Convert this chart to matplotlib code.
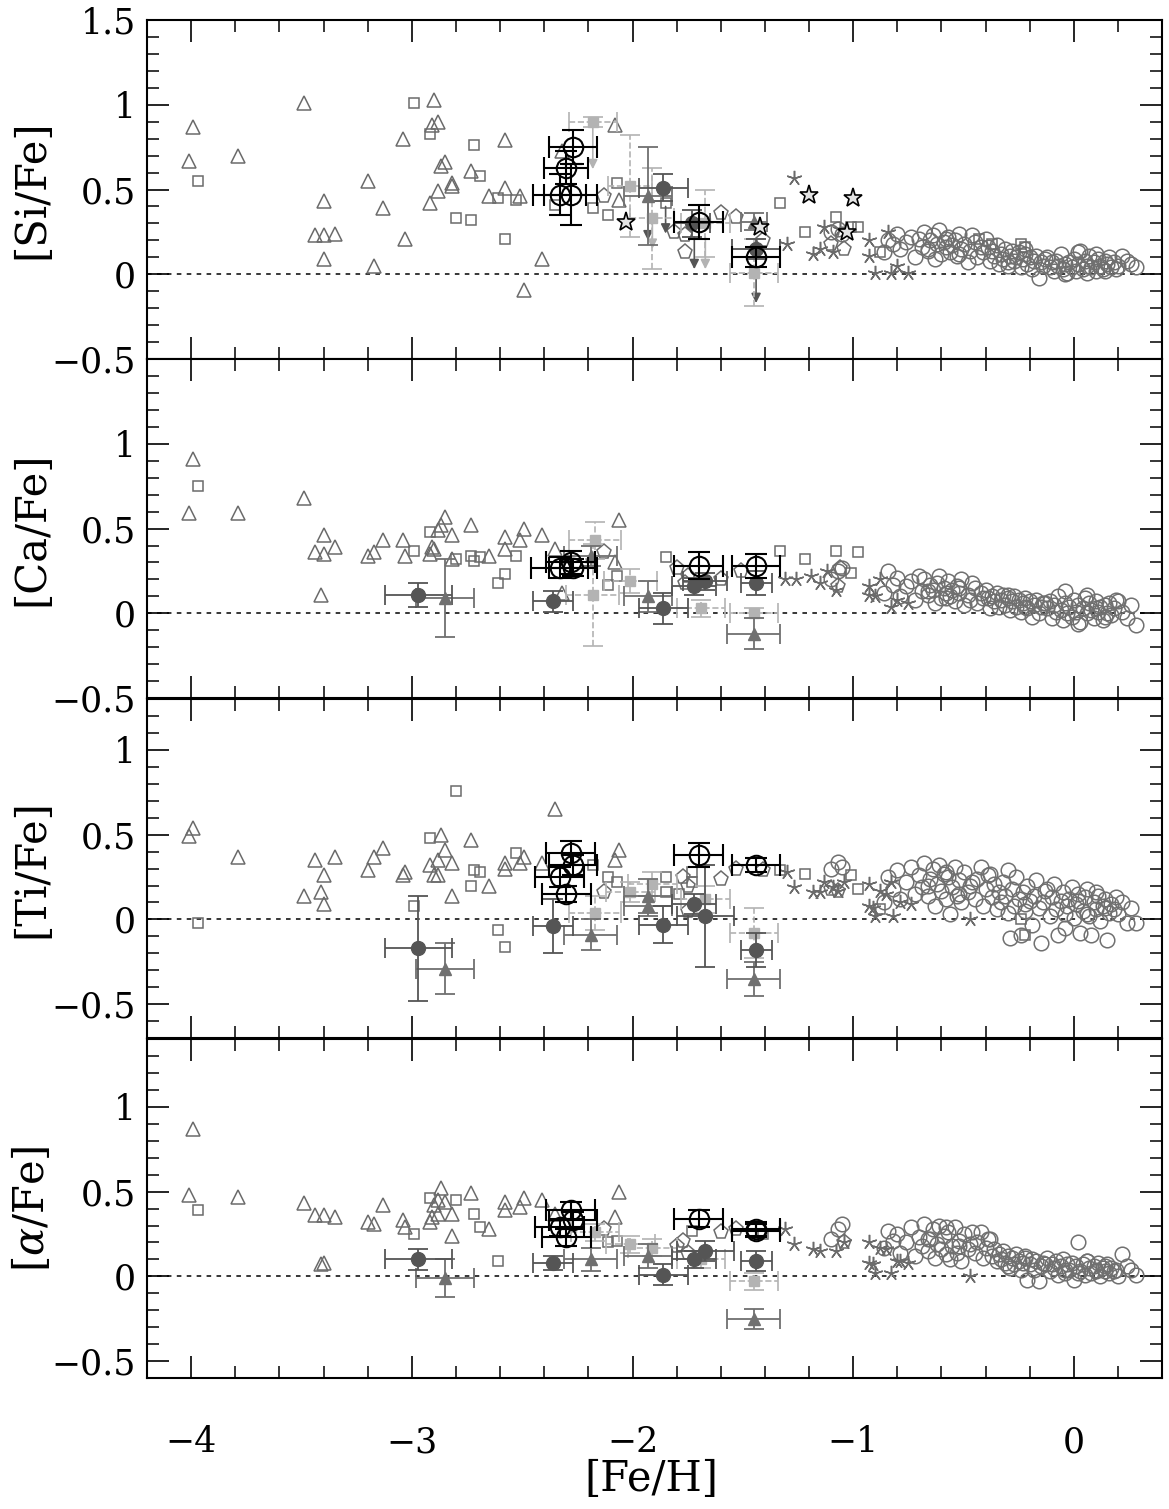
"""[X/Fe] vs [Fe/H] for Si, Ca, Ti and alpha - four stacked panels."""

import numpy as np
import matplotlib.pyplot as plt

plt.rcParams['font.family'] = 'DejaVu Serif'
plt.rcParams['mathtext.fontset'] = 'dejavuserif'

# ---------------------------------------------------------------- disk stars (shared [Fe/H])
disk_feh = [-0.86, -0.84, -0.82, -0.80, -0.79, -0.76, -0.74, -0.72, -0.70, -0.69,
            -0.68, -0.66, -0.65, -0.64, -0.63, -0.62, -0.61, -0.60, -0.59, -0.58,
            -0.57, -0.56, -0.55, -0.54, -0.53, -0.52, -0.51, -0.50, -0.48, -0.47,
            -0.45, -0.44, -0.42, -0.41, -0.40, -0.38, -0.37, -0.36, -0.35, -0.34,
            -0.33, -0.32, -0.31, -0.30, -0.29, -0.28, -0.27, -0.26, -0.25, -0.24,
            -0.23, -0.22, -0.21, -0.20, -0.19, -0.18, -0.17, -0.16, -0.15, -0.14,
            -0.12, -0.11, -0.10, -0.09, -0.08, -0.07, -0.06, -0.05, -0.04, -0.03,
            -0.02, -0.01, 0.00, 0.01, 0.02, 0.03, 0.04, 0.05, 0.06, 0.07,
            0.08, 0.09, 0.10, 0.11, 0.12, 0.13, 0.14, 0.15, 0.16, 0.17,
            0.18, 0.20, 0.22, 0.24, 0.26, 0.28, -0.66, -0.58, -0.52, -0.30,
            -0.22, -0.13, -0.04, 0.02, 0.06, 0.10, 0.14, -0.46, -0.39, 0.19,
            -1.10, -1.07, -1.05]
disk_si = [0.13, 0.20, 0.18, 0.24, 0.15, 0.19, 0.22, 0.10, 0.21, 0.16,
           0.25, 0.14, 0.20, 0.23, 0.09, 0.18, 0.26, 0.12, 0.19, 0.16,
           0.22, 0.13, 0.17, 0.20, 0.11, 0.24, 0.15, 0.18, 0.07, 0.14,
           0.19, 0.10, 0.16, 0.13, 0.21, 0.08, 0.14, 0.11, 0.17, 0.06,
           0.12, 0.09, 0.15, 0.05, 0.11, 0.14, 0.08, 0.10, 0.13, 0.04,
           0.09, 0.12, 0.06, 0.10, 0.03, 0.08, 0.11, -0.02, 0.07, 0.05,
           0.10, 0.04, 0.07, 0.02, 0.08, 0.05, 0.12, 0.03, 0.06, 0.01,
           0.07, 0.04, 0.09, 0.02, 0.06, 0.14, 0.03, 0.08, 0.05, 0.11,
           0.04, 0.07, 0.02, 0.09, 0.05, 0.03, 0.08, 0.06, 0.10, 0.04,
           0.07, 0.05, 0.11, 0.08, 0.06, 0.04, 0.15, 0.21, 0.12, 0.07,
           0.15, 0.09, 0.00, 0.13, 0.01, 0.12, 0.02, 0.23, 0.16, 0.03,
           0.25, 0.27, 0.24]
disk_ca = [0.12, 0.25, 0.17, 0.21, 0.10, 0.16, 0.19, 0.08, 0.22, 0.13,
           0.20, 0.11, 0.17, 0.14, 0.06, 0.18, 0.22, 0.09, 0.15, 0.12,
           0.19, 0.10, 0.14, 0.07, 0.16, 0.12, 0.20, 0.05, 0.11, 0.08,
           0.15, 0.06, 0.12, 0.09, 0.14, 0.03, 0.10, 0.07, 0.12, 0.04,
           0.08, 0.11, 0.05, 0.09, 0.02, 0.07, 0.10, 0.04, 0.08, 0.01,
           0.06, 0.09, 0.03, 0.07, -0.02, 0.05, 0.08, 0.00, 0.04, 0.06,
           0.03, 0.07, -0.03, 0.05, 0.01, 0.10, 0.02, -0.04, 0.06, 0.00,
           0.04, -0.02, 0.08, 0.01, 0.05, -0.05, 0.03, 0.09, 0.00, 0.06,
           0.02, -0.03, 0.07, 0.01, 0.04, -0.04, 0.05, 0.00, 0.06, -0.01,
           0.03, 0.07, 0.01, -0.03, 0.05, -0.07, 0.13, 0.09, 0.15, 0.11,
           0.04, 0.06, 0.13, -0.06, 0.11, 0.03, -0.02, 0.18, 0.09, 0.08,
           0.20, 0.25, 0.27]
disk_ti = [0.10, 0.25, 0.18, 0.29, 0.12, 0.22, 0.31, 0.15, 0.26, 0.19,
           0.33, 0.14, 0.24, 0.30, 0.08, 0.21, 0.32, 0.17, 0.27, 0.12,
           0.25, 0.03, 0.19, 0.31, 0.14, 0.23, 0.10, 0.28, 0.16, 0.20,
           0.12, 0.24, 0.31, 0.08, 0.18, 0.27, 0.13, 0.21, 0.06, 0.16,
           0.10, 0.22, 0.14, 0.29, -0.11, 0.18, 0.08, 0.25, 0.12, -0.09,
           0.16, 0.05, 0.20, 0.11, -0.03, 0.14, 0.23, 0.07, -0.14, 0.10,
           0.18, 0.02, 0.13, 0.21, 0.06, -0.09, 0.11, 0.16, 0.03, 0.08,
           0.12, 0.19, 0.01, 0.09, 0.15, -0.08, 0.05, 0.13, 0.18, 0.02,
           -0.09, 0.10, 0.06, 0.14, -0.01, 0.08, 0.12, -0.12, 0.04, 0.09,
           0.06, 0.03, 0.10, -0.02, 0.07, -0.02, 0.20, 0.28, 0.15, 0.04,
           0.09, 0.17, -0.05, 0.11, 0.03, 0.16, 0.07, 0.22, 0.26, 0.13,
           0.30, 0.34, 0.31]
disk_alpha = [0.17, 0.27, 0.21, 0.25, 0.14, 0.20, 0.29, 0.12, 0.23, 0.18,
              0.31, 0.15, 0.22, 0.28, 0.11, 0.19, 0.30, 0.16, 0.24, 0.13,
              0.26, 0.10, 0.18, 0.29, 0.14, 0.21, 0.09, 0.25, 0.16, 0.19,
              0.14, 0.20, 0.26, 0.11, 0.17, 0.22, 0.12, 0.16, 0.09, 0.13,
              0.10, 0.15, 0.08, 0.12, 0.05, 0.11, 0.07, 0.13, 0.09, 0.04,
              0.08, 0.12, -0.02, 0.07, 0.10, 0.04, 0.09, -0.03, 0.06, 0.08,
              0.11, 0.03, 0.07, 0.05, 0.09, 0.01, 0.06, 0.10, 0.02, 0.07,
              0.04, 0.08, -0.02, 0.06, 0.20, 0.03, 0.07, 0.01, 0.09, 0.05,
              0.02, 0.06, 0.04, 0.08, 0.00, 0.05, 0.03, 0.07, 0.02, 0.05,
              0.03, 0.00, 0.13, 0.06, 0.04, 0.01, 0.22, 0.29, 0.18, 0.06,
              0.11, 0.07, 0.04, 0.02, 0.09, 0.03, 0.06, 0.26, 0.22, 0.04,
              0.22, 0.28, 0.31]

# ---------------------------------------------------------------- [Si/Fe]
si_tri_x = [-4.01, -3.99, -3.79, -3.49, -3.40, -3.44, -3.40, -3.35, -3.40, -3.20, -3.17,
            -3.13, -3.04, -3.03, -2.90, -2.91, -2.88, -2.87, -2.85, -2.82, -2.82, -2.88,
            -2.92, -2.73, -2.65, -2.58, -2.58, -2.51, -2.49, -2.41, -2.32, -2.08, -2.06]
si_tri_y = [0.67, 0.87, 0.70, 1.01, 0.43, 0.23, 0.23, 0.24, 0.09, 0.55, 0.05,
            0.39, 0.80, 0.21, 1.03, 0.88, 0.90, 0.64, 0.66, 0.54, 0.52, 0.49,
            0.42, 0.61, 0.46, 0.79, 0.51, 0.46, -0.09, 0.09, 0.73, 0.88, 0.44]
si_sq_x = [-3.97, -2.99, -2.92, -2.72, -2.69, -2.80, -2.73, -2.61, -2.53, -2.58, -2.35, -2.18,
           -2.11, -2.07, -1.85, -1.33, -1.22, -1.08, -1.01, -0.98, -0.88, -0.43, -0.37, -0.24, -0.22]
si_sq_y = [0.55, 1.01, 0.83, 0.76, 0.58, 0.33, 0.32, 0.45, 0.44, 0.21, 0.41, 0.39,
           0.35, 0.54, 0.42, 0.42, 0.25, 0.34, 0.28, 0.28, 0.13, 0.21, 0.18, 0.18, 0.16]
si_pent_x = [-2.13, -1.81, -1.76, -1.76, -1.60, -1.53, -1.41, -1.10, -1.04]
si_pent_y = [0.46, 0.25, 0.23, 0.13, 0.36, 0.34, 0.20, 0.18, 0.15]
si_ast_x = [-1.27, -1.30, -1.18, -1.15, -1.09, -1.13, -1.06, -0.93, -0.93, -0.90, -0.83, -0.80, -0.75, -0.84]
si_ast_y = [0.57, 0.18, 0.12, 0.15, 0.13, 0.28, 0.27, 0.20, 0.11, 0.01, 0.01, 0.05, 0.01, 0.25]
si_star_x = [-2.03, -1.42, -1.20, -1.00, -1.03]
si_star_y = [0.31, 0.28, 0.47, 0.45, 0.25]
si_oc_x = [-2.27, -2.30, -2.33, -2.28, -1.70, -1.44]
si_oc_y = [0.75, 0.63, 0.47, 0.47, 0.31, 0.10]
si_oc_xe = [0.11, 0.10, 0.12, 0.12, 0.11, 0.11]
si_oc_ye = [0.10, 0.10, 0.12, 0.18, 0.10, 0.06]
si_fc_x = [-1.86, -1.73, -1.44]
si_fc_y = [0.51, 0.30, 0.15]
si_fc_xe = [0.11, 0.08, 0.11]
si_fc_ye = [0.08, 0.08, 0.06]
si_ft_x = [-1.93, -1.45]
si_ft_y = [0.46, 0.31]
si_ft_xe = [0.11, 0.06]
si_ft_ye = [0.29, 0.05]
si_ls_x = [-2.18, -2.01, -1.91, -1.67, -1.45]
si_ls_y = [0.90, 0.52, 0.33, 0.30, 0.01]
si_ls_xe = [0.11, 0.10, 0.10, 0.11, 0.11]
si_ls_ye = [0.03, 0.30, 0.30, 0.20, 0.20]
# upper limits: start / end of the downward arrows
si_lim_x = [-2.18, -1.93, -1.91, -1.85, -1.72, -1.67, -1.44]
si_lim_top = [0.90, 0.44, 0.33, 0.40, 0.22, 0.22, 0.02]
si_lim_bot = [0.62, 0.20, 0.15, 0.24, 0.03, 0.03, -0.17]
si_lim_dark = [False, True, False, True, True, False, True]

# ---------------------------------------------------------------- [Ca/Fe]
ca_tri_x = [-4.01, -3.99, -3.79, -3.49, -3.40, -3.44, -3.40, -3.35, -3.41, -3.20, -3.17,
            -3.13, -3.04, -3.03, -2.92, -2.91, -2.90, -2.88, -2.87, -2.85, -2.82, -2.82,
            -2.73, -2.65, -2.58, -2.58, -2.51, -2.49, -2.41, -2.35, -2.32, -2.08, -2.06]
ca_tri_y = [0.59, 0.91, 0.59, 0.68, 0.46, 0.36, 0.35, 0.39, 0.11, 0.34, 0.36,
            0.43, 0.43, 0.34, 0.35, 0.39, 0.38, 0.49, 0.52, 0.57, 0.46, 0.32,
            0.52, 0.34, 0.45, 0.38, 0.43, 0.50, 0.46, 0.38, 0.12, 0.30, 0.55]
ca_sq_x = [-3.97, -2.92, -2.99, -2.80, -2.73, -2.72, -2.69, -2.53, -2.58, -2.61, -2.11, -2.07,
           -1.85, -1.33, -1.22, -1.08, -0.98, -1.01]
ca_sq_y = [0.75, 0.48, 0.37, 0.32, 0.34, 0.31, 0.33, 0.34, 0.23, 0.18, 0.17, 0.22,
           0.33, 0.37, 0.32, 0.37, 0.36, 0.24]
ca_pent_x = [-2.13, -1.80, -1.75, -1.76, -1.60, -1.51, -1.06, -1.07]
ca_pent_y = [0.36, 0.27, 0.22, 0.18, 0.20, 0.25, 0.27, 0.16]
ca_ast_x = [-1.31, -1.26, -1.19, -1.15, -1.12, -1.08, -0.93, -0.93, -0.90, -0.83, -0.80, -0.88, -0.75]
ca_ast_y = [0.20, 0.20, 0.22, 0.18, 0.25, 0.14, 0.16, 0.11, 0.10, 0.04, 0.08, 0.20, 0.06]
ca_oc_x = [-2.33, -2.28, -2.27, -1.70, -1.44]
ca_oc_y = [0.27, 0.30, 0.27, 0.28, 0.28]
ca_oc_xe = [0.13, 0.11, 0.11, 0.11, 0.11]
ca_oc_ye = [0.06, 0.07, 0.05, 0.08, 0.07]
ca_fc_x = [-2.97, -2.36, -1.86, -1.72, -1.67, -1.44]
ca_fc_y = [0.11, 0.07, 0.03, 0.16, 0.19, 0.18]
ca_fc_xe = [0.15, 0.09, 0.11, 0.10, 0.10, 0.07]
ca_fc_ye = [0.07, 0.06, 0.09, 0.05, 0.05, 0.07]
ca_ft_x = [-2.85, -2.19, -1.93, -1.45]
ca_ft_y = [0.09, 0.34, 0.10, -0.12]
ca_ft_xe = [0.13, 0.12, 0.11, 0.12]
ca_ft_ye = [0.23, 0.06, 0.09, 0.09]
ca_ls_x = [-2.17, -2.18, -2.01, -1.69, -1.45]
ca_ls_y = [0.43, 0.11, 0.19, 0.03, 0.00]
ca_ls_xe = [0.12, 0.12, 0.12, 0.11, 0.11]
ca_ls_ye = [0.11, 0.30, 0.07, 0.05, 0.03]

# ---------------------------------------------------------------- [Ti/Fe]
ti_tri_x = [-4.01, -3.99, -3.79, -3.49, -3.44, -3.41, -3.40, -3.40, -3.35, -3.20, -3.17,
            -3.13, -3.04, -3.03, -2.92, -2.90, -2.88, -2.88, -2.87, -2.85, -2.82, -2.82,
            -2.73, -2.65, -2.58, -2.58, -2.51, -2.49, -2.41, -2.35, -2.08, -2.06]
ti_tri_y = [0.49, 0.54, 0.37, 0.14, 0.35, 0.16, 0.26, 0.09, 0.37, 0.29, 0.37,
            0.42, 0.26, 0.28, 0.32, 0.26, 0.26, 0.35, 0.50, 0.41, 0.33, 0.14,
            0.47, 0.20, 0.33, 0.30, 0.33, 0.37, 0.33, 0.65, 0.35, 0.41]
ti_sq_x = [-3.97, -2.80, -2.92, -2.72, -2.69, -2.73, -2.99, -2.53, -2.61, -2.58, -2.18, -2.11,
           -2.07, -1.85, -1.73, -1.73, -1.85, -1.79, -1.33, -1.22, -1.01, -0.98, -0.88, -0.24, -0.22]
ti_sq_y = [-0.02, 0.76, 0.48, 0.29, 0.28, 0.20, 0.08, 0.39, -0.06, -0.16, 0.32, 0.25,
           0.22, 0.25, 0.28, 0.22, 0.16, 0.15, 0.29, 0.27, 0.26, 0.18, 0.06, 0.00, -0.09]
ti_pent_x = [-2.13, -1.77, -1.75, -1.75, -1.60, -1.53, -1.41, -1.10, -1.07]
ti_pent_y = [0.16, 0.25, 0.20, 0.05, 0.24, 0.30, 0.29, 0.18, 0.17]
ti_ast_x = [-1.30, -1.27, -1.18, -1.15, -1.13, -1.09, -1.07, -1.04, -0.93, -0.93,
            -0.91, -0.90, -0.82, -0.88, -0.85, -0.79, -0.74, -0.83, -0.47]
ti_ast_y = [0.28, 0.19, 0.16, 0.16, 0.22, 0.19, 0.17, 0.22, 0.21, 0.08,
            0.07, 0.02, 0.02, 0.17, 0.15, 0.10, 0.09, 0.22, 0.00]
ti_oc_x = [-2.28, -2.27, -2.33, -2.30, -1.70, -1.44]
ti_oc_y = [0.39, 0.32, 0.25, 0.15, 0.38, 0.32]
ti_oc_xe = [0.11, 0.11, 0.11, 0.11, 0.11, 0.11]
ti_oc_ye = [0.07, 0.06, 0.06, 0.05, 0.07, 0.04]
ti_fc_x = [-2.97, -2.36, -1.86, -1.72, -1.67, -1.44]
ti_fc_y = [-0.17, -0.04, -0.03, 0.09, 0.02, -0.18]
ti_fc_xe = [0.15, 0.09, 0.11, 0.10, 0.13, 0.07]
ti_fc_ye = [0.31, 0.16, 0.11, 0.06, 0.30, 0.10]
ti_ft_x = [-2.85, -2.19, -1.93, -1.93, -1.45]
ti_ft_y = [-0.29, -0.09, 0.14, 0.08, -0.35]
ti_ft_xe = [0.13, 0.12, 0.11, 0.11, 0.12]
ti_ft_ye = [0.15, 0.09, 0.10, 0.06, 0.10]
ti_ls_x = [-2.17, -2.01, -1.91, -1.67, -1.45]
ti_ls_y = [0.04, 0.16, 0.21, 0.12, -0.08]
ti_ls_xe = [0.12, 0.11, 0.11, 0.11, 0.11]
ti_ls_ye = [0.10, 0.06, 0.07, 0.08, 0.15]

# ---------------------------------------------------------------- [alpha/Fe]
al_tri_x = [-4.01, -3.99, -3.79, -3.49, -3.44, -3.40, -3.35, -3.41, -3.40, -3.20, -3.17,
            -3.13, -3.04, -3.03, -2.92, -2.91, -2.90, -2.88, -2.87, -2.85, -2.88, -2.82,
            -2.82, -2.73, -2.65, -2.58, -2.58, -2.51, -2.49, -2.41, -2.35, -2.08, -2.06]
al_tri_y = [0.48, 0.87, 0.47, 0.43, 0.36, 0.36, 0.35, 0.07, 0.08, 0.32, 0.31,
            0.42, 0.33, 0.29, 0.32, 0.35, 0.42, 0.45, 0.52, 0.44, 0.37, 0.37,
            0.24, 0.49, 0.28, 0.44, 0.39, 0.41, 0.46, 0.45, 0.37, 0.35, 0.50]
al_sq_x = [-3.97, -2.92, -2.80, -2.72, -2.69, -2.99, -2.61, -2.11, -2.07, -1.73, -1.41]
al_sq_y = [0.39, 0.46, 0.45, 0.37, 0.29, 0.25, 0.09, 0.20, 0.21, 0.27, 0.25]
al_pent_x = [-2.13, -1.77, -1.80, -1.75, -1.60, -1.53, -1.04]
al_pent_y = [0.28, 0.21, 0.18, 0.14, 0.26, 0.28, 0.20]
al_ast_x = [-1.31, -1.27, -1.18, -1.15, -1.08, -1.04, -0.93, -0.88, -0.93, -0.91,
            -0.90, -0.83, -0.80, -0.85, -0.79, -0.75, -0.47]
al_ast_y = [0.28, 0.19, 0.16, 0.15, 0.15, 0.20, 0.20, 0.17, 0.08, 0.07,
            0.02, 0.02, 0.09, 0.16, 0.09, 0.08, 0.00]
al_oc_x = [-2.28, -2.27, -2.33, -2.30, -1.70, -1.44, -1.44]
al_oc_y = [0.39, 0.33, 0.29, 0.23, 0.34, 0.28, 0.27]
al_oc_xe = [0.11, 0.11, 0.11, 0.11, 0.11, 0.11, 0.11]
al_oc_ye = [0.05, 0.05, 0.05, 0.05, 0.05, 0.04, 0.04]
al_fc_x = [-2.97, -2.36, -1.86, -1.72, -1.67, -1.44]
al_fc_y = [0.10, 0.08, 0.01, 0.10, 0.15, 0.09]
al_fc_xe = [0.15, 0.09, 0.11, 0.10, 0.13, 0.07]
al_fc_ye = [0.06, 0.04, 0.06, 0.05, 0.06, 0.06]
al_ft_x = [-2.85, -2.19, -1.93, -1.45]
al_ft_y = [-0.01, 0.10, 0.12, -0.25]
al_ft_xe = [0.13, 0.12, 0.11, 0.12]
al_ft_ye = [0.11, 0.07, 0.07, 0.06]
al_ls_x = [-2.17, -2.01, -1.91, -1.69, -1.45]
al_ls_y = [0.26, 0.19, 0.17, 0.10, -0.03]
al_ls_xe = [0.11, 0.11, 0.11, 0.11, 0.11]
al_ls_ye = [0.05, 0.05, 0.05, 0.05, 0.05]

ylabels = ['[Si/Fe]', '[Ca/Fe]', '[Ti/Fe]', r'[$\alpha$/Fe]']
ylims = [(-0.5, 1.5), (-0.5, 1.5), (-0.7, 1.3), (-0.6, 1.4)]
ylabel_ticks = [[-0.5, 0, 0.5, 1, 1.5], [-0.5, 0, 0.5, 1], [-0.5, 0, 0.5, 1], [-0.5, 0, 0.5, 1]]

panels = [
    dict(disk=disk_si, tri=(si_tri_x, si_tri_y), sq=(si_sq_x, si_sq_y), pent=(si_pent_x, si_pent_y),
         ast=(si_ast_x, si_ast_y), star=(si_star_x, si_star_y),
         oc=(si_oc_x, si_oc_y, si_oc_xe, si_oc_ye), fc=(si_fc_x, si_fc_y, si_fc_xe, si_fc_ye),
         ft=(si_ft_x, si_ft_y, si_ft_xe, si_ft_ye), ls=(si_ls_x, si_ls_y, si_ls_xe, si_ls_ye),
         lim=(si_lim_x, si_lim_top, si_lim_bot, si_lim_dark)),
    dict(disk=disk_ca, tri=(ca_tri_x, ca_tri_y), sq=(ca_sq_x, ca_sq_y), pent=(ca_pent_x, ca_pent_y),
         ast=(ca_ast_x, ca_ast_y), star=None,
         oc=(ca_oc_x, ca_oc_y, ca_oc_xe, ca_oc_ye), fc=(ca_fc_x, ca_fc_y, ca_fc_xe, ca_fc_ye),
         ft=(ca_ft_x, ca_ft_y, ca_ft_xe, ca_ft_ye), ls=(ca_ls_x, ca_ls_y, ca_ls_xe, ca_ls_ye), lim=None),
    dict(disk=disk_ti, tri=(ti_tri_x, ti_tri_y), sq=(ti_sq_x, ti_sq_y), pent=(ti_pent_x, ti_pent_y),
         ast=(ti_ast_x, ti_ast_y), star=None,
         oc=(ti_oc_x, ti_oc_y, ti_oc_xe, ti_oc_ye), fc=(ti_fc_x, ti_fc_y, ti_fc_xe, ti_fc_ye),
         ft=(ti_ft_x, ti_ft_y, ti_ft_xe, ti_ft_ye), ls=(ti_ls_x, ti_ls_y, ti_ls_xe, ti_ls_ye), lim=None),
    dict(disk=disk_alpha, tri=(al_tri_x, al_tri_y), sq=(al_sq_x, al_sq_y), pent=(al_pent_x, al_pent_y),
         ast=(al_ast_x, al_ast_y), star=None,
         oc=(al_oc_x, al_oc_y, al_oc_xe, al_oc_ye), fc=(al_fc_x, al_fc_y, al_fc_xe, al_fc_ye),
         ft=(al_ft_x, al_ft_y, al_ft_xe, al_ft_ye), ls=(al_ls_x, al_ls_y, al_ls_xe, al_ls_ye), lim=None),
]

GREY = '#6b6b6b'
DARK = '#555555'
MID = '#707070'
LIGHT = '#b3b3b3'

fig = plt.figure(figsize=(11.69, 15.09), dpi=100)
left, width = 0.1258, 0.8683
bottoms = [0.7621, 0.5374, 0.3121, 0.0868]
height = 0.2246

for i, p in enumerate(panels):
    ax = fig.add_axes([left, bottoms[i], width, height])

    ax.axhline(0, color='black', lw=1.1, ls=(0, (3, 3.5)), zorder=1)

    # field samples
    ax.plot(disk_feh, p['disk'], 'o', ms=10.5, mfc='none', mec=MID, mew=1.1, zorder=2)
    ax.plot(*p['ast'], ls='none', marker=(5, 2, 0), ms=11, mec=GREY, mew=1.1, zorder=2)
    ax.plot(*p['tri'], '^', ms=9.5, mfc='none', mec=GREY, mew=1.1, zorder=2)
    ax.plot(*p['sq'], 's', ms=7.5, mfc='none', mec=GREY, mew=1.1, zorder=2)
    ax.plot(*p['pent'], 'p', ms=11, mfc='none', mec=GREY, mew=1.1, zorder=2)
    if p['star'] is not None:
        ax.plot(*p['star'], '*', ms=14, mfc='#e4e4e4', mec='black', mew=1.2, zorder=6)

    # upper limits
    if p['lim'] is not None:
        for x, yt, yb, dark in zip(*p['lim']):
            c = DARK if dark else LIGHT
            ax.annotate('', xy=(x, yb), xytext=(x, yt),
                        arrowprops=dict(arrowstyle='-|>', color=c, lw=1.2,
                                        mutation_scale=14, shrinkA=0, shrinkB=0),
                        zorder=3)

    # dwarf galaxy stars with error bars
    x, y, xe, ye = p['ls']
    eb = ax.errorbar(x, y, xerr=xe, yerr=ye, fmt='s', ms=7, color=LIGHT, ecolor=LIGHT,
                     elinewidth=1.2, capsize=7, capthick=1.2, zorder=3)
    eb[2][0].set_linestyle('--')
    eb[2][1].set_linestyle('--')
    x, y, xe, ye = p['ft']
    ax.errorbar(x, y, xerr=xe, yerr=ye, fmt='^', ms=9, color=MID, ecolor=MID,
                elinewidth=1.3, capsize=7, capthick=1.3, zorder=4)
    x, y, xe, ye = p['fc']
    ax.errorbar(x, y, xerr=xe, yerr=ye, fmt='o', ms=10, color=DARK, ecolor=DARK,
                elinewidth=1.3, capsize=7, capthick=1.3, zorder=4)
    x, y, xe, ye = p['oc']
    ax.errorbar(x, y, xerr=xe, yerr=ye, fmt='o', ms=14, mfc='none', mec='black', mew=1.5,
                ecolor='black', elinewidth=1.5, capsize=8, capthick=1.5, zorder=5)

    ax.set_xlim(-4.2, 0.4)
    ax.set_xticks([-4, -3, -2, -1, 0])
    ax.set_xticks(np.arange(-4.2, 0.41, 0.2), minor=True)
    ax.set_yticks(ylabel_ticks[i])
    ax.set_yticks(np.arange(-0.7, 1.51, 0.1), minor=True)
    ax.set_yticklabels(['1' if t == 1 else ('0' if t == 0 else f'{t:g}'.replace('-', '\u2212'))
                        for t in ylabel_ticks[i]])
    ax.set_ylim(*ylims[i])
    ax.tick_params(which='both', direction='in', top=True, right=True, labelsize=25)
    ax.tick_params(which='major', length=16, width=1.2, pad=8)
    ax.tick_params(which='minor', length=8.5, width=1.1)
    ax.tick_params(axis='x', pad=34)
    if i < 3:
        ax.tick_params(axis='x', labelbottom=False)
    for s in ax.spines.values():
        s.set_linewidth(1.5)

    fig.text(0.027, bottoms[i] + height * 0.5, ylabels[i], rotation=90,
             ha='center', va='center', fontsize=30)

fig.text(0.557, 0.020, '[Fe/H]', ha='center', va='center', fontsize=30)

fig.savefig('out.png', dpi=100, facecolor='white')
